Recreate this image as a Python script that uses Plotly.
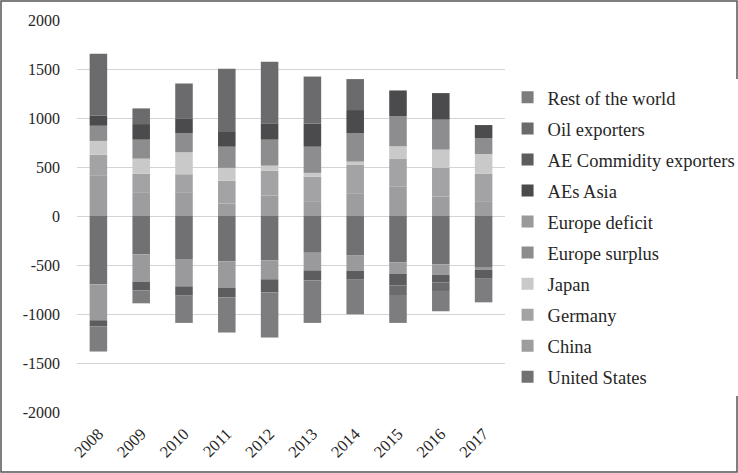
import plotly.graph_objects as go

years = ["2008", "2009", "2010", "2011", "2012", "2013", "2014", "2015", "2016", "2017"]
y_tick_values = [-2000, -1500, -1000, -500, 0, 500, 1000, 1500, 2000]
y_tick_labels = ["-2000", "-1500", "-1000", "-500", "0", "500", "1000", "1500", "2000"]

united_states = [-697, -392, -446, -463, -453, -375, -399, -473, -494, -528]
china = [416, 236, 236, 127, 209, 144, 226, 303, 199, 144]
germany = [210, 197, 190, 234, 254, 258, 295, 279, 291, 286]
japan = [140, 152, 224, 130, 51, 38, 34, 129, 187, 203]
europe_surplus = [155, 194, 197, 216, 265, 267, 292, 309, 306, 163]
europe_deficit = [-367, -278, -272, -268, -193, -180, -159, -119, -105, -23]
aes_asia = [105, 159, 149, 150, 166, 235, 234, 261, 271, 132]
ae_commodity = [-61, -88, -95, -99, -133, -102, -92, -115, -80, -89]
oil_exporters = [629, 160, 356, 645, 628, 481, 316, -99, -86, 0]
rest_of_world = [-258, -133, -278, -359, -461, -434, -353, -285, -207, -241]

series = [
    ("United States", united_states, "#717174"),
    ("China", china, "#9d9d9f"),
    ("Germany", germany, "#a3a3a5"),
    ("Japan", japan, "#c9c9c9"),
    ("Europe surplus", europe_surplus, "#8d8d8f"),
    ("Europe deficit", europe_deficit, "#9a9a9c"),
    ("AEs Asia", aes_asia, "#4b4b4d"),
    ("AE Commidity exporters", ae_commodity, "#5d5d5f"),
    ("Oil exporters", oil_exporters, "#6b6b6d"),
    ("Rest of the world", rest_of_world, "#7d7d7f"),
]

font_family = "Liberation Serif"

fig = go.Figure()
n = len(series)
for i, (name, vals, col) in enumerate(series):
    fig.add_trace(go.Bar(
        x=years, y=vals, name=name, legendgroup=name,
        legendrank=100 + (n - i),
        marker=dict(color=col, line=dict(width=0)),
    ))

fig.update_layout(
    width=738, height=473,
    barmode="relative",
    bargap=0.59,
    paper_bgcolor="white",
    plot_bgcolor="white",
    margin=dict(l=77, r=233, t=20, b=61, autoexpand=False),
    font=dict(family=font_family, size=16, color="#262626"),
    legend=dict(
        x=1.006, y=0.85, xanchor="left", yanchor="top",
        traceorder="grouped", tracegroupgap=4,
        font=dict(family=font_family, size=18.5, color="#262626"),
        itemwidth=30,
    ),
    xaxis=dict(
        tickangle=-45, showgrid=False, showline=False, ticks="",
        ticklabelstandoff=8,
        tickfont=dict(family=font_family, size=16.5, color="#262626"),
    ),
    yaxis=dict(
        range=[-2000, 2000], tickvals=y_tick_values, ticktext=y_tick_labels,
        showgrid=True, gridcolor="#d4d4d4", gridwidth=1.3,
        zeroline=True, zerolinecolor="#d4d4d4", zerolinewidth=1.3,
        showline=False, ticks="", ticklabelstandoff=16,
        tickfont=dict(family=font_family, size=16, color="#262626"),
    ),
    shapes=[dict(
        type="rect", xref="paper", yref="paper",
        x0=(1 - 77) / 428, x1=(737 - 77) / 428,
        y0=(412 - 472) / 392, y1=(412 - 1) / 392,
        line=dict(color="#555555", width=1.5),
    )],
)

fig.write_html(
    "out.html",
    config={"displayModeBar": False},
    post_script="document.body.style.margin='0';document.body.style.padding='0';",
)
